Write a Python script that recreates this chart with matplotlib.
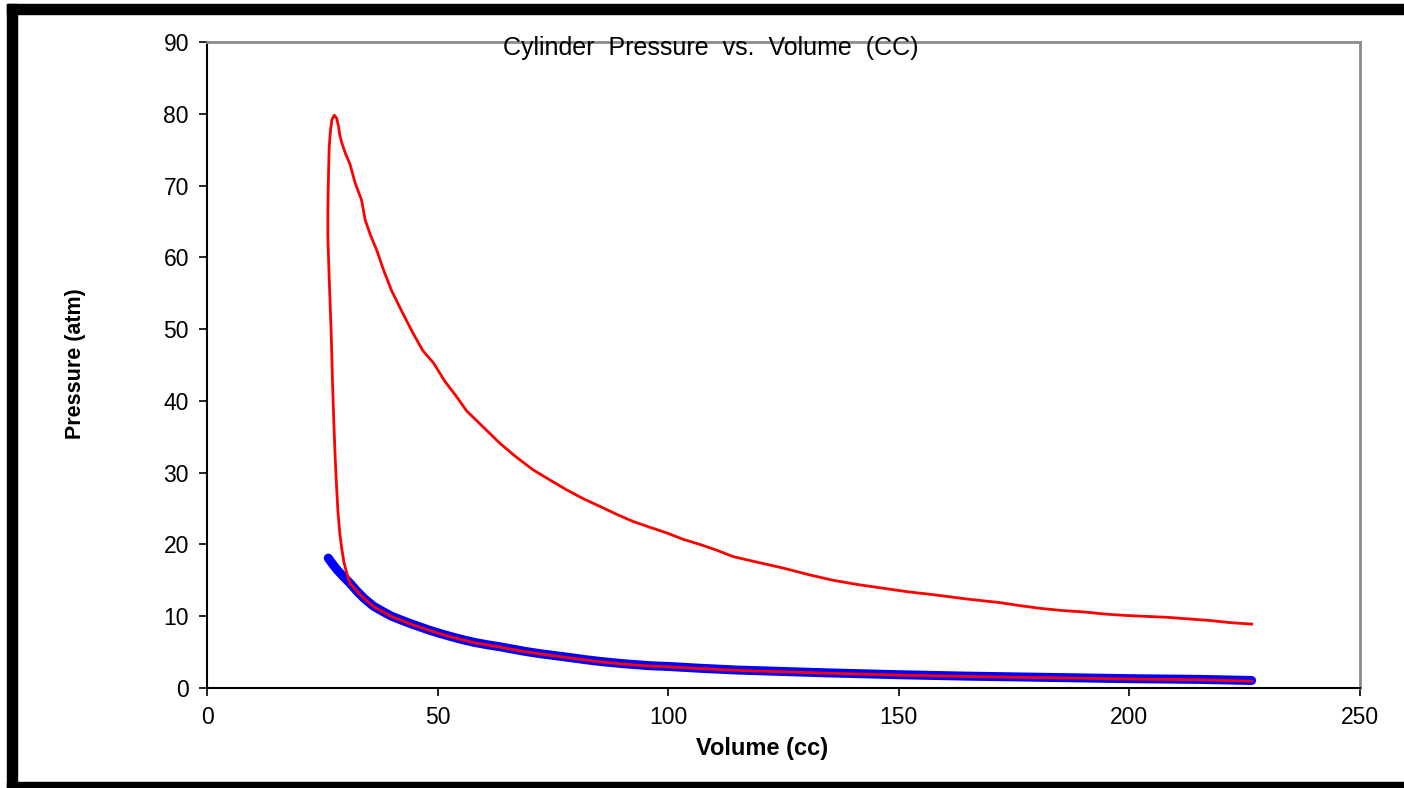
import matplotlib
matplotlib.use('Agg')
import matplotlib.pyplot as plt
from matplotlib.patches import Rectangle

plt.rcParams['font.family'] = ['Liberation Sans', 'DejaVu Sans']

# motored trace (blue)
motored_vol = [26.3, 27.2, 28.3, 29.6, 31.0, 32.5, 34.2, 36.1, 38.0, 40.0, 42.0,
               44.0, 46.0, 48.0, 50.5, 52.7, 55.0, 58.0, 61.0, 63.5, 66.0, 69.0,
               72.0, 74.4, 78.0, 82.0, 85.2, 90.0, 96.1, 100.0, 106.9, 115, 125,
               135, 150, 165, 180, 200, 215, 226.5]
motored_p = [18.1, 17.3, 16.4, 15.5, 14.6, 13.5, 12.4, 11.4, 10.7, 10.0, 9.5,
             9.0, 8.55, 8.1, 7.6, 7.2, 6.8, 6.35, 6.0, 5.75, 5.45, 5.1,
             4.8, 4.6, 4.3, 3.95, 3.7, 3.4, 3.1, 3.0, 2.75, 2.5, 2.3,
             2.1, 1.85, 1.65, 1.5, 1.3, 1.2, 1.05]

# fired cycle (red): compression, combustion, expansion
fired_vol = [226.5, 215, 200, 180, 165, 150, 135, 125, 115, 106.9, 100.0, 96.1,
             90.0, 85.2, 78.0, 74.4, 69.0, 63.5, 58.0, 52.7, 48.0, 44.0, 40.0,
             36.1, 33.5, 31.0, 30.3, 29.7, 29.2, 28.8, 28.4, 28.1, 27.8, 27.5,
             27.2, 26.9, 26.5, 26.2, 26.2, 26.3, 26.4, 26.5, 26.8, 27.1, 27.6,
             28.1, 28.5, 28.8, 29.3, 30.0, 31.0, 32.1, 33.5, 34.3, 35.5, 36.8,
             38.3, 40.0, 42.3, 44.7, 46.8, 49.1, 51.5, 54.1, 56.3, 59.5, 63.5,
             67.0, 70.7, 74.3, 78.0, 81.5, 85.2, 88.8, 92.4, 96.0, 99.7, 103.3,
             106.9, 110.5, 114.1, 119.5, 125.0, 130.4, 135.8, 141.2, 146.6,
             152.0, 157.5, 164.7, 171.9, 176.0, 180.6, 185.3, 190.0, 194.7,
             199.4, 208.1, 217.5, 222.0, 226.5]
fired_p = [0.95, 1.15, 1.25, 1.45, 1.6, 1.8, 2.05, 2.25, 2.45, 2.7, 2.95, 3.05,
           3.35, 3.65, 4.25, 4.55, 5.05, 5.7, 6.3, 7.15, 8.05, 8.95, 9.95,
           11.35, 12.8, 14.6, 16.0, 17.5, 19.5, 21.5, 24.5, 28.0, 32.0, 37.0,
           43.0, 50.0, 57.0, 63.0, 66.0, 70.0, 73.0, 75.4, 77.8, 79.2, 79.8,
           79.4, 78.3, 77.0, 75.8, 74.5, 73.0, 70.4, 68.0, 65.2, 63.0, 61.0,
           58.2, 55.4, 52.4, 49.4, 47.0, 45.3, 42.8, 40.6, 38.6, 36.6, 34.1,
           32.2, 30.4, 29.0, 27.6, 26.4, 25.3, 24.2, 23.2, 22.4, 21.6, 20.7,
           20.0, 19.2, 18.3, 17.5, 16.7, 15.8, 15.0, 14.4, 13.9,
           13.4, 13.0, 12.4, 11.9, 11.5, 11.1, 10.8, 10.6, 10.3,
           10.1, 9.85, 9.4, 9.1, 8.9]

fig = plt.figure(figsize=(14.04, 7.88), dpi=100)
ax = fig.add_axes([207/1404, 100/788, 1153/1404, 646/788])

ax.plot(motored_vol, motored_p, color='#0000ff', lw=6.5, solid_capstyle='round',
        solid_joinstyle='round')
ax.plot(fired_vol, fired_p, color='#ff0000', lw=2, solid_joinstyle='round')

ax.set_xlim(0, 250)
ax.set_ylim(0, 90)
ax.set_xticks([0, 50, 100, 150, 200, 250])
ax.set_yticks(range(0, 91, 10))
ax.tick_params(direction='out', length=6, width=1.2, labelsize=16.5, pad=7)

ax.spines['left'].set_color('black')
ax.spines['bottom'].set_color('black')
ax.spines['left'].set_linewidth(1.5)
ax.spines['bottom'].set_linewidth(1.5)
for s in ['top', 'right']:
    ax.spines[s].set_color('#8c8c8c')
    ax.spines[s].set_linewidth(2)

fig.text(711/1404, 1 - 48/788, 'Cylinder  Pressure  vs.  Volume  (CC)',
         ha='center', va='center', fontsize=18)
fig.text(762/1404, 1 - 749/788, 'Volume (cc)', ha='center', va='center',
         fontsize=17, fontweight='bold')
fig.text(75/1404, 1 - 364/788, 'Pressure (atm)', ha='center', va='center',
         fontsize=15.5, fontweight='bold', rotation=90)

# black frame round the picture
fig.patches.append(Rectangle((7/1404, 1 - 14/788), 1, 10/788,
                             transform=fig.transFigure, color='black'))
fig.patches.append(Rectangle((7/1404, 0), 10/1404, 1 - 4/788,
                             transform=fig.transFigure, color='black'))
fig.patches.append(Rectangle((7/1404, 0), 1, 6/788,
                             transform=fig.transFigure, color='black'))

fig.savefig('out.png', dpi=100)
